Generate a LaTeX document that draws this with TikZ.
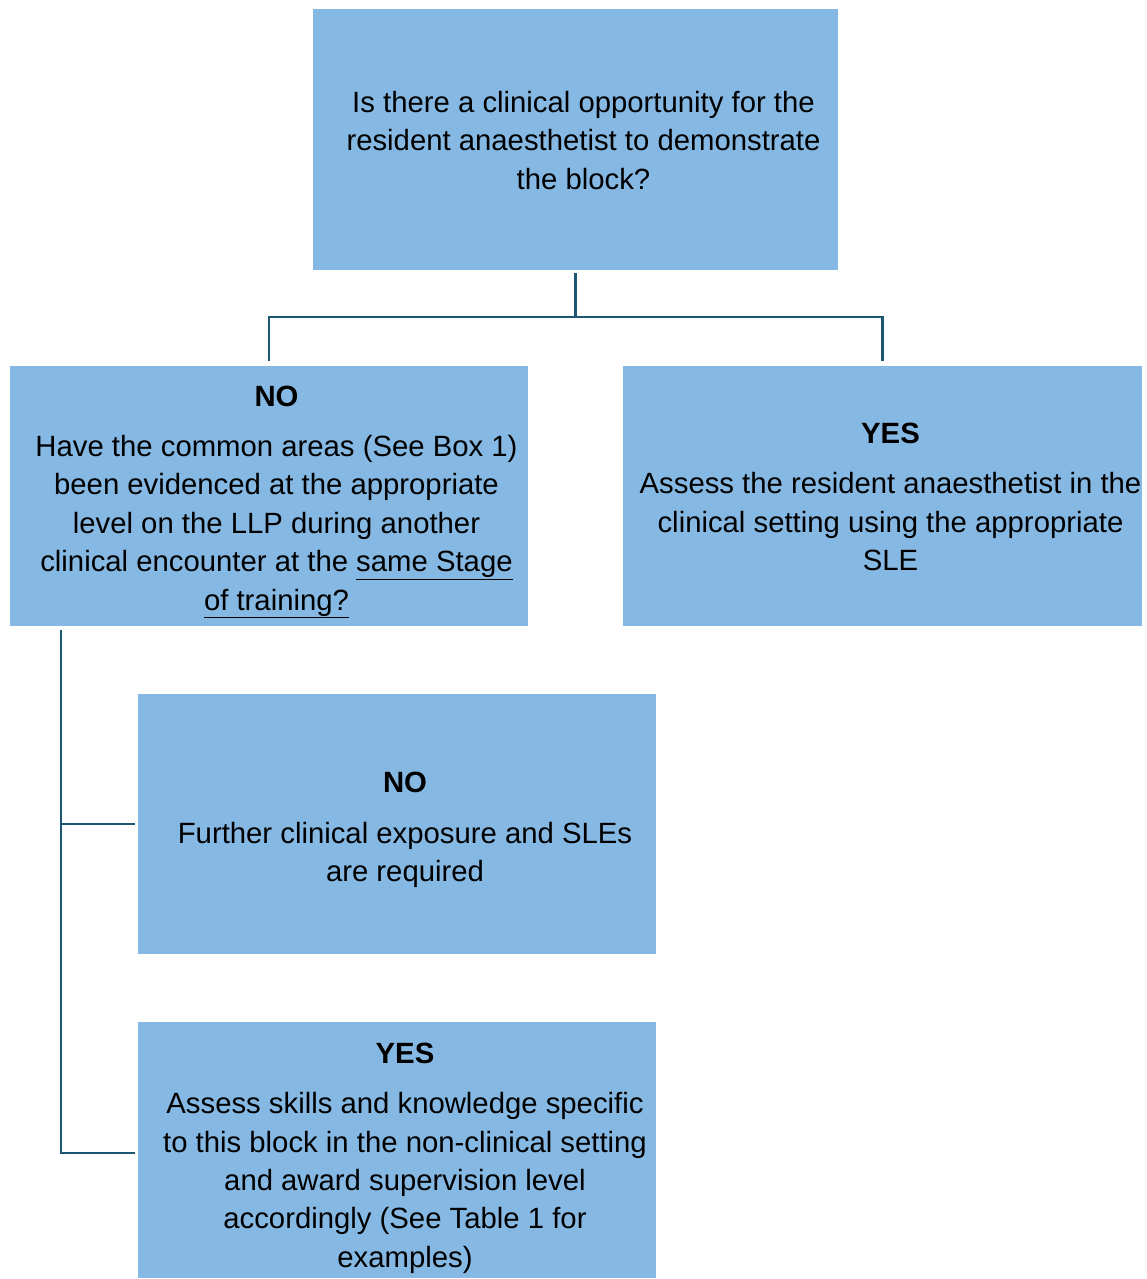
\documentclass[tikz,border=0pt]{standalone}
\usepackage{fontspec}
\setmainfont{Liberation Sans}
\definecolor{boxblue}{RGB}{133,184,227}
\definecolor{linecol}{RGB}{30,85,115}
\begin{document}
\begin{tikzpicture}[x=1pt,y=1pt,
  box/.style={fill=boxblue, draw=none, inner sep=0pt},
  txt/.style={inner sep=0pt, align=center,
    font=\fontsize{29.3}{38.4}\selectfont, text=black},
  conn/.style={draw=linecol, line width=2.5pt}]
\useasboundingbox (0,0) rectangle (1146,-1279);
\node[box, minimum width=525, minimum height=261] (top) at (575.5,-139.5) {};
\node[box, minimum width=518, minimum height=260] (no1) at (269,-496) {};
\node[box, minimum width=519, minimum height=260] (yes1) at (882.5,-496) {};
\node[box, minimum width=518, minimum height=260] (no2) at (397,-824) {};
\node[box, minimum width=518, minimum height=256] (yes2) at (397,-1150) {};
\node[txt] (ttop) at ([xshift=8pt,yshift=-1pt]top.center)
  {Is there a clinical opportunity for the\\resident anaesthetist to demonstrate\\the block?};
\node[txt] (tno1) at ([xshift=7.5pt,yshift=-6pt]no1.center)
  {\textbf{NO}\\[12pt]Have the common areas (See Box 1)\\been evidenced at the appropriate\\level on the LLP during another\\clinical encounter at the \underline{same Stage}\\\underline{of training?}};
\node[txt] (tyes1) at ([xshift=8pt,yshift=-1pt]yes1.center)
  {\textbf{YES}\\[12pt]Assess the resident anaesthetist in the\\clinical setting using the appropriate\\SLE};
\node[txt] (tno2) at ([xshift=8pt,yshift=-6pt]no2.center)
  {\textbf{NO}\\[12pt]Further clinical exposure and SLEs\\are required};
\node[txt] (tyes2) at ([xshift=8pt,yshift=-8pt]yes2.center)
  {\textbf{YES}\\[12pt]Assess skills and knowledge specific\\to this block in the non-clinical setting\\and award supervision level\\accordingly (See Table 1 for\\examples)};
\coordinate (h) at (575.5,-317);
\draw[conn, shorten <=3pt] (top.south) -- (h);
\draw[conn, shorten <=5pt, shorten >=5pt] (no1.north) |- (h) -| (yes1.north);
\coordinate (v) at ([xshift=51pt,yshift=-4pt]no1.south west);
\draw[conn, shorten >=3pt] (v) |- ([yshift=-3pt]yes2.west);
\draw[conn, shorten >=3pt] (v |- no2.west) -- (no2.west);
\end{tikzpicture}
\end{document}
